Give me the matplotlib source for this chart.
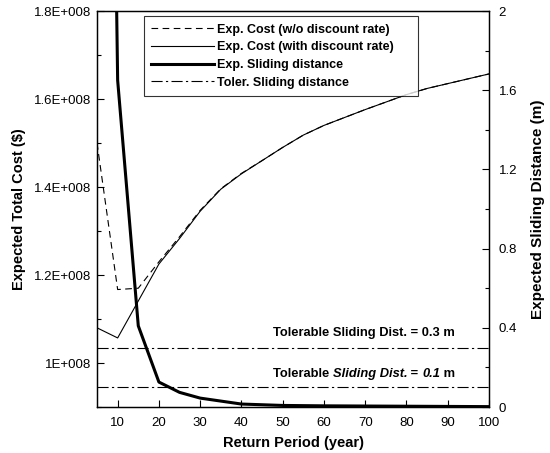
import matplotlib
matplotlib.use("Agg")
import matplotlib.pyplot as plt
from matplotlib.ticker import MultipleLocator, FuncFormatter

plt.rcParams['font.family'] = ['Liberation Sans', 'DejaVu Sans']

# Data
period_cost = [5, 10, 15, 20, 25, 30, 35, 40, 45, 50, 55, 60, 65, 70, 75, 80, 85, 90, 95, 100]
cost_with_disc = [1.080e8, 1.057e8, 1.141e8, 1.225e8, 1.283e8, 1.345e8, 1.395e8, 1.430e8, 1.460e8,
                  1.490e8, 1.518e8, 1.540e8, 1.558e8, 1.576e8, 1.593e8, 1.610e8, 1.624e8, 1.635e8,
                  1.646e8, 1.657e8]
period_nodisc = [5, 10, 15, 20, 25, 30, 35, 40, 45, 50, 55, 60, 65, 70, 75, 80, 85, 90, 95, 100]
cost_wo_disc = [1.500e8, 1.167e8, 1.170e8, 1.230e8, 1.287e8, 1.347e8, 1.396e8, 1.431e8, 1.460e8,
                1.490e8, 1.518e8, 1.540e8, 1.558e8, 1.576e8, 1.593e8, 1.610e8, 1.624e8, 1.635e8,
                1.646e8, 1.657e8]
period_slide = [5, 10, 15, 20, 25, 30, 35, 40, 50, 60, 70, 80, 90, 100]
sliding = [9.0, 1.65, 0.41, 0.126, 0.074, 0.045, 0.03, 0.015, 0.008, 0.006, 0.005, 0.004, 0.003, 0.002]
tol_levels = [0.3, 0.1]
tol_values = ["0.3", "0.1"]
x_range = [5, 100]

fig = plt.figure(figsize=(5.5, 4.53), dpi=100)
ax = fig.add_axes([0.1764, 0.1015, 0.7127, 0.8742])
ax2 = ax.twinx()

l1, = ax.plot(period_nodisc, cost_wo_disc, color='black', lw=0.8, ls=(0, (6, 4)),
              label='Exp. Cost (w/o discount rate)')
l2, = ax.plot(period_cost, cost_with_disc, color='black', lw=0.8, ls='-',
              label='Exp. Cost (with discount rate)')
l3, = ax2.plot(period_slide, sliding, color='black', lw=2.2, ls='-',
               label='Exp. Sliding distance')
l4 = None
for lv in tol_levels:
    l4, = ax2.plot(x_range, [lv, lv], color='black', lw=0.8, ls=(0, (10, 3, 2, 3)),
                   label='Toler. Sliding distance')

ax.set_xlim(5, 100)
ax.set_ylim(0.9e8, 1.8e8)
ax2.set_ylim(0, 2)

ax.xaxis.set_major_locator(MultipleLocator(10))
ax.yaxis.set_major_locator(MultipleLocator(0.2e8))
ax.yaxis.set_minor_locator(MultipleLocator(0.1e8))
ax2.yaxis.set_major_locator(MultipleLocator(0.4))
ax2.yaxis.set_minor_locator(MultipleLocator(0.2))

def cost_fmt(v, pos):
    m = v / 1e8
    if abs(m - round(m)) < 1e-6:
        return "%dE+008" % round(m)
    return "%.1fE+008" % m

def dist_fmt(v, pos):
    if abs(v - round(v)) < 1e-6:
        return "%d" % round(v)
    return "%.1f" % v

ax.yaxis.set_major_formatter(FuncFormatter(cost_fmt))
ax2.yaxis.set_major_formatter(FuncFormatter(dist_fmt))

for a in (ax, ax2):
    a.tick_params(which='both', direction='in', labelsize=9.5, width=0.8)
    a.tick_params(which='major', length=5)
    a.tick_params(which='minor', length=3)
    for s in a.spines.values():
        s.set_linewidth(0.9)
ax.tick_params(axis='x', pad=7)
ax.tick_params(axis='y', pad=4)
ax2.tick_params(axis='y', pad=7)

ax.set_xlabel('Return Period (year)', fontsize=10.5, fontweight='bold', labelpad=5)
ax.set_ylabel('Expected Total Cost ($)', fontsize=10.5, fontweight='bold', labelpad=6)
ax2.set_ylabel('Expected Sliding Distance (m)', fontsize=11, fontweight='bold', labelpad=10)

# Tolerable annotations (mixed upright / italic as in the reference)
x0 = 47.6
ax2.text(x0, 0.374, "Tolerable Sliding Dist. = " + tol_values[0] + " m",
         fontsize=9.3, fontweight='bold', ha='left', va='center')
parts = [("Tolerable ", 'normal'), ("Sliding Dist.", 'italic'), (" = ", 'normal'),
         (tol_values[1], 'italic'), (" m", 'normal')]
prev = ax2.text(x0, 0.167, parts[0][0], fontsize=9.3, fontweight='bold',
                style=parts[0][1], ha='left', va='center')
for txt, sty in parts[1:]:
    prev = ax2.annotate(txt, xy=(1, 0.5), xycoords=prev, fontsize=9.3, fontweight='bold',
                        style=sty, ha='left', va='center')

leg = ax2.legend(handles=[l1, l2, l3, l4], loc='upper left',
                 bbox_to_anchor=(0.119, 0.0, 0.70, 0.987), mode='expand', borderaxespad=0,
                 prop={'weight': 'bold', 'size': 9}, frameon=True, fancybox=False,
                 edgecolor='black', handlelength=5.0, borderpad=0.6, labelspacing=0.45,
                 handletextpad=0.3)
leg.get_frame().set_linewidth(0.8)

fig.savefig('out.png', dpi=100)
